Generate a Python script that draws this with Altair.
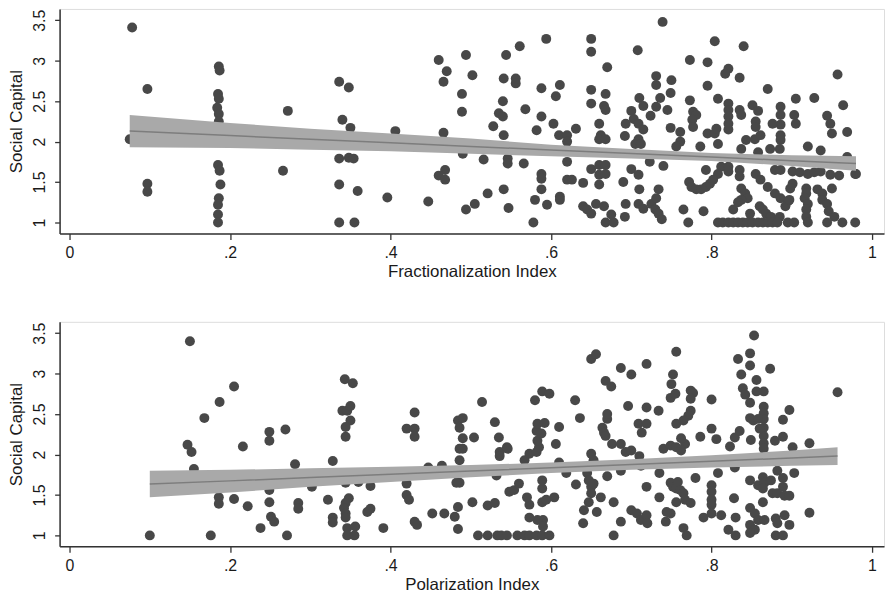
import altair as alt
import pandas as pd

# ---------------- data ----------------
frac_points = [
    (0.078,3.41),(0.075,2.03),(0.097,2.65),(0.097,1.48),(0.097,1.38),
    (0.186,2.93),(0.187,2.88),(0.185,2.59),(0.186,2.53),(0.184,2.42),(0.186,2.34),(0.186,2.25),
    (0.185,1.71),(0.187,1.64),(0.188,1.47),(0.186,1.30),(0.185,1.22),(0.185,1.10),(0.185,1.0),
    (0.266,1.64),(0.272,2.38),
    (0.336,2.74),(0.336,1.79),(0.336,1.47),(0.336,1.0),(0.348,2.67),(0.348,1.80),(0.34,2.27),
    (0.35,2.17),(0.354,1.79),(0.359,1.39),(0.355,1.0),
    (0.396,1.31),(0.406,2.13),(0.447,1.26),(0.46,3.01),(0.47,2.87),(0.466,2.74),(0.466,2.11),
    (0.468,1.65),(0.46,1.58),(0.468,1.53),
    (0.494,3.07),(0.502,2.82),(0.489,2.59),(0.489,2.37),(0.49,1.85),(0.494,1.16),(0.505,1.23),
    (0.516,1.78),(0.521,1.36),(0.528,2.19),(0.535,2.35),(0.54,2.31),(0.54,2.50),(0.541,2.78),
    (0.544,3.07),(0.541,2.08),(0.546,1.79),(0.546,1.73),(0.541,1.41),(0.547,1.18),(0.556,2.78),
    (0.556,2.72),(0.561,3.18),(0.566,1.73),(0.568,2.40),(0.578,1.0),(0.582,2.14),(0.58,1.28),
    (0.588,2.66),(0.588,2.31),(0.588,1.60),(0.588,1.54),(0.588,1.41),(0.594,3.27),(0.595,1.22),
    (0.65,3.27),(0.65,3.11),(0.67,2.92),(0.739,3.48),(0.708,3.13),(0.773,3.01),(0.795,2.98),
    (0.611,2.70),(0.606,2.56),(0.65,2.64),(0.65,2.47),(0.668,2.59),(0.666,2.44),(0.668,2.39),
    (0.731,2.81),(0.731,2.70),(0.75,2.76),(0.749,2.60),(0.736,2.54),(0.71,2.54),(0.715,2.44),
    (0.731,2.43),(0.745,2.39),(0.724,2.32),(0.70,2.38),(0.703,2.28),(0.709,2.22),(0.693,2.22),
    (0.715,2.15),(0.709,2.03),(0.705,1.97),(0.712,1.97),(0.692,2.07),
    (0.66,2.22),(0.662,2.08),(0.66,2.03),(0.668,2.03),(0.631,2.16),(0.603,2.22),(0.61,2.08),
    (0.62,2.08),(0.62,2.0),
    (0.62,1.75),(0.62,1.53),(0.626,1.53),(0.64,1.49),(0.65,1.66),(0.66,1.71),(0.668,1.71),
    (0.66,1.59),(0.668,1.60),(0.66,1.47),
    (0.611,1.32),(0.611,1.28),(0.64,1.20),(0.645,1.16),(0.65,1.11),(0.656,1.23),(0.666,1.20),
    (0.668,1.0),(0.678,1.0),(0.675,1.10),
    (0.69,1.50),(0.70,1.66),(0.709,1.59),(0.71,1.41),(0.693,1.23),(0.692,1.07),(0.709,1.23),
    (0.715,1.17),(0.723,1.75),(0.74,1.70),
    (0.725,1.23),(0.731,1.30),(0.73,1.16),(0.734,1.11),(0.738,1.04),(0.734,1.41),
    (0.749,2.17),(0.761,2.12),(0.761,2.0),(0.756,1.94),(0.773,2.51),(0.777,2.37),(0.781,2.33),
    (0.776,2.27),(0.777,2.18),(0.786,1.94),(0.795,2.69),(0.795,2.10),(0.793,1.65),
    (0.772,1.50),(0.775,1.44),(0.781,1.41),(0.787,1.41),(0.793,1.44),(0.798,1.48),(0.765,1.16),
    (0.771,1.0),(0.79,1.14),
    (0.804,3.24),(0.84,3.18),(0.821,2.90),(0.817,2.84),(0.835,2.79),(0.87,2.65),(0.957,2.83),
    (0.808,2.53),(0.905,2.53),(0.928,2.54),(0.964,2.45),
    (0.821,2.47),(0.821,2.39),(0.821,2.31),(0.821,2.22),(0.821,2.15),(0.835,2.39),(0.837,2.33),
    (0.851,2.45),(0.858,2.38),(0.855,2.25),(0.855,2.18),
    (0.886,2.43),(0.886,2.33),(0.886,2.21),(0.876,2.22),(0.886,2.08),(0.886,2.02),(0.903,2.33),
    (0.905,2.22),(0.944,2.32),(0.948,2.22),(0.95,2.10),(0.969,2.12),
    (0.804,2.10),(0.808,1.97),(0.843,2.02),(0.854,2.03),(0.861,2.08),(0.837,1.91),(0.858,1.87),
    (0.873,1.91),(0.885,1.91),(0.92,1.94),(0.936,1.89),(0.969,1.81),
    (0.812,1.69),(0.808,1.60),(0.802,1.53),(0.821,1.69),(0.821,1.63),(0.835,1.65),(0.835,1.57),
    (0.855,1.60),(0.861,1.53),(0.879,1.65),(0.886,1.65),
    (0.901,1.63),(0.91,1.62),(0.92,1.60),(0.928,1.62),(0.936,1.63),(0.948,1.59),(0.959,1.58),
    (0.979,1.60),(0.901,1.48),(0.898,1.42),
    (0.87,1.44),(0.879,1.36),(0.886,1.30),(0.895,1.26),(0.837,1.42),(0.842,1.36),(0.845,1.30),
    (0.837,1.28),
    (0.918,1.42),(0.918,1.36),(0.916,1.30),(0.92,1.23),(0.918,1.16),(0.918,1.07),(0.932,1.41),
    (0.938,1.36),(0.938,1.28),(0.95,1.42),(0.944,1.23),(0.946,1.14),(0.953,1.07),
    (0.86,1.20),(0.864,1.16),(0.868,1.11),(0.874,1.07),(0.885,1.07),(0.892,1.20),(0.897,1.28),
    (0.827,1.16),(0.833,1.25),(0.848,1.11),
    (0.808,1.0),(0.814,1.0),(0.821,1.0),(0.827,1.0),(0.833,1.0),(0.839,1.0),(0.845,1.0),
    (0.851,1.0),(0.858,1.0),(0.864,1.0),(0.87,1.0),(0.876,1.0),(0.882,1.0),(0.895,1.0),
    (0.903,1.0),(0.92,1.0),(0.944,1.0),(0.963,1.0),(0.979,1.0),
    (0.806,2.16),(0.98,1.60),
]

polar_points = [
    (0.1,1.0),(0.15,3.40),(0.147,2.12),(0.152,2.03),(0.155,1.82),(0.168,2.45),(0.176,1.0),
    (0.187,2.65),(0.186,1.47),(0.186,1.39),(0.205,2.84),(0.205,1.45),(0.216,2.10),(0.222,1.36),
    (0.238,1.09),(0.249,2.28),(0.249,2.17),(0.249,1.56),(0.249,1.41),(0.251,1.23),(0.255,1.17),
    (0.269,2.31),(0.271,1.0),(0.281,1.88),(0.285,1.40),(0.285,1.33),(0.302,1.60),(0.322,1.44),
    (0.328,1.92),(0.328,1.22),(0.328,1.16),
    (0.343,2.93),(0.353,2.88),(0.34,2.54),(0.346,2.54),(0.35,2.60),(0.35,2.42),(0.344,2.34),
    (0.344,2.22),(0.344,1.65),(0.348,1.46),(0.344,1.40),(0.342,1.34),(0.344,1.27),(0.344,1.22),
    (0.346,1.09),(0.356,1.11),(0.346,1.0),(0.355,1.0),(0.36,1.66),(0.371,1.29),(0.375,1.33),
    (0.375,1.61),(0.391,1.09),
    (0.42,2.32),(0.43,2.32),(0.43,2.52),(0.43,2.22),(0.42,1.64),(0.42,1.50),(0.423,1.44),
    (0.43,1.17),(0.433,1.13),(0.452,1.27),(0.467,1.27),(0.447,1.84),(0.464,1.86),
    (0.484,2.42),(0.49,2.45),(0.486,2.33),(0.49,2.20),(0.486,2.07),(0.49,2.07),(0.486,1.93),
    (0.486,1.65),(0.482,1.65),(0.484,1.35),(0.48,1.23),(0.484,1.08),
    (0.504,2.21),(0.502,1.41),(0.514,2.65),(0.521,1.37),(0.53,1.40),(0.53,2.40),(0.535,2.21),
    (0.536,2.03),(0.536,1.98),(0.545,2.09),(0.532,1.74),(0.548,1.54),
    (0.509,1.0),(0.521,1.0),(0.533,1.0),(0.538,1.0),(0.545,1.0),(0.558,1.0),(0.567,1.0),
    (0.573,1.0),(0.582,1.0),(0.589,1.0),(0.598,1.0),
    (0.59,1.19),(0.583,1.19),(0.573,1.22),(0.59,1.11),(0.573,1.38),(0.57,1.47),(0.554,1.56),
    (0.56,1.64),(0.589,1.41),(0.594,1.44),(0.604,1.47),(0.589,1.58),(0.589,1.68),
    (0.567,1.93),(0.573,2.01),(0.582,2.03),(0.585,2.09),(0.583,2.17),(0.588,2.26),(0.582,2.29),
    (0.583,2.38),(0.592,2.39),
    (0.58,2.67),(0.589,2.78),(0.598,2.75),(0.61,2.34),(0.606,2.13),(0.61,1.90),(0.619,1.77),
    (0.546,2.07),(0.63,2.67),(0.636,2.45),(0.631,1.63),(0.65,2.01),(0.653,1.93),
    (0.645,1.77),(0.647,1.68),(0.65,1.60),(0.653,1.64),(0.65,1.52),(0.647,1.41),(0.641,1.31),
    (0.64,1.15),(0.657,1.29),(0.662,1.47),
    (0.65,3.18),(0.656,3.24),(0.664,2.33),(0.67,2.44),(0.67,2.50),(0.666,2.27),(0.668,2.23),
    (0.67,1.73),(0.678,1.41),(0.678,1.0),(0.687,1.17),(0.668,2.91),(0.675,2.84),(0.687,3.07),
    (0.70,2.99),(0.696,2.60),(0.676,2.13),(0.687,2.13),(0.693,2.03),(0.70,2.05),(0.687,1.80),
    (0.709,2.38),(0.713,2.27),(0.719,2.38),(0.71,1.98),(0.712,1.86),(0.719,3.12),(0.719,2.58),
    (0.719,1.60),(0.70,1.31),(0.707,1.27),(0.712,1.19),(0.719,1.25),(0.72,1.15),
    (0.734,2.54),(0.735,1.77),(0.735,1.47),(0.743,1.17),(0.74,2.07),(0.749,2.11),(0.756,2.09),
    (0.752,2.99),(0.75,2.87),(0.749,2.70),(0.755,2.75),(0.756,3.27),(0.756,2.38),(0.749,1.65),
    (0.752,1.60),(0.756,1.58),(0.749,1.27),(0.744,1.29),(0.756,1.41),
    (0.853,3.47),(0.848,3.25),(0.833,3.18),(0.848,3.10),(0.837,2.99),(0.873,3.06),(0.856,2.92),
    (0.839,2.82),(0.842,2.74),(0.856,2.78),(0.865,2.78),(0.848,2.64),
    (0.865,2.59),(0.865,2.51),(0.865,2.44),(0.865,2.33),(0.865,2.23),(0.865,2.14),(0.865,2.07),
    (0.848,2.45),(0.852,2.42),(0.858,2.44),(0.86,2.32),(0.849,2.18),(0.897,2.55),(0.889,2.43),
    (0.957,2.77),(0.80,2.68),
    (0.774,2.79),(0.777,2.76),(0.774,2.69),(0.774,2.54),(0.771,2.48),(0.765,2.42),(0.80,2.32),
    (0.806,2.19),(0.786,2.22),(0.823,2.10),(0.829,2.21),(0.835,2.29),
    (0.767,2.13),(0.762,2.20),(0.762,2.05),(0.879,2.17),(0.889,2.22),(0.901,2.09),(0.922,2.14),
    (0.808,1.77),(0.78,1.71),(0.903,1.77),(0.80,1.62),(0.80,1.54),(0.829,1.84),(0.882,1.80),
    (0.848,1.68),(0.858,1.62),(0.864,1.72),(0.866,1.65),(0.874,1.68),(0.864,1.58),
    (0.889,1.71),(0.889,1.60),(0.876,1.52),(0.882,1.52),(0.891,1.49),(0.897,1.49),
    (0.758,1.66),(0.761,1.56),(0.765,1.52),(0.767,1.44),(0.774,1.40),(0.80,1.44),(0.80,1.38),
    (0.828,1.46),(0.864,1.41),
    (0.812,1.25),(0.79,1.22),(0.80,1.27),(0.83,1.22),(0.848,1.34),(0.854,1.27),(0.858,1.19),
    (0.866,1.19),(0.848,1.13),(0.854,1.07),(0.848,1.03),(0.821,1.07),(0.83,1.0),
    (0.88,1.21),(0.882,1.15),(0.891,1.25),(0.897,1.13),(0.88,1.0),(0.889,1.0),(0.765,1.09),
    (0.769,1.0),(0.922,1.28),
]

# linear fit with 95% CI
frac_fit_x  = [0.075, 0.2, 0.3, 0.4, 0.5, 0.6, 0.7, 0.8, 0.9, 0.98]
frac_fit_y  = [2.13, 2.075, 2.03, 1.986, 1.94, 1.897, 1.853, 1.809, 1.764, 1.73]
frac_fit_hi = [2.33, 2.23, 2.16, 2.10, 2.04, 1.96, 1.91, 1.86, 1.83, 1.82]
frac_fit_lo = [1.93, 1.92, 1.90, 1.88, 1.85, 1.82, 1.79, 1.76, 1.70, 1.64]

polar_fit_x  = [0.10, 0.2, 0.3, 0.4, 0.5, 0.6, 0.7, 0.8, 0.9, 0.957]
polar_fit_y  = [1.634, 1.674, 1.715, 1.755, 1.796, 1.836, 1.876, 1.917, 1.957, 1.98]
polar_fit_hi = [1.80, 1.81, 1.83, 1.85, 1.87, 1.90, 1.94, 1.99, 2.05, 2.09]
polar_fit_lo = [1.47, 1.53, 1.60, 1.66, 1.72, 1.77, 1.81, 1.84, 1.86, 1.87]

x_ticks = [0, 0.2, 0.4, 0.6, 0.8, 1]
y_ticks = [1, 1.5, 2, 2.5, 3, 3.5]
x_domain = [-0.0124, 1.0149]
y_domain = [0.865, 3.64]

FONT = "Liberation Sans"
PANEL_W = 830
PANEL_H = 226


def panel(points, fx, fy, flo, fhi, xtitle):
    pts = pd.DataFrame(points, columns=["x", "y"])
    fit = pd.DataFrame({"x": fx, "y": fy, "lo": flo, "hi": fhi})

    xscale = alt.Scale(domain=x_domain, nice=False, zero=False)
    yscale = alt.Scale(domain=y_domain, nice=False, zero=False)

    xaxis = alt.Axis(
        values=x_ticks, title=xtitle, grid=False,
        labelExpr="datum.value == 0 || datum.value == 1 ? format(datum.value, 'd') : slice(format(datum.value, '.1f'), 1)",
        tickSize=6, labelPadding=5, titlePadding=3,
        domainColor="#333333", tickColor="#333333", domainWidth=1.5, tickWidth=1.3,
        labelFont=FONT, titleFont=FONT, labelFontSize=16, titleFontSize=17,
        labelColor="#1a1a1a", titleColor="#1a1a1a", titleFontWeight="normal",
        labelFlush=False, labelOverlap=False,
    )
    yaxis = alt.Axis(
        values=y_ticks, title="Social Capital", grid=False, format="~g",
        labelAngle=-90, labelAlign="center", labelBaseline="alphabetic",
        tickSize=5, labelPadding=10, titlePadding=6,
        domainColor="#333333", tickColor="#333333", domainWidth=1.5, tickWidth=1.3,
        labelFont=FONT, titleFont=FONT, labelFontSize=16, titleFontSize=17,
        labelColor="#1a1a1a", titleColor="#1a1a1a", titleFontWeight="normal",
        labelFlush=False, labelOverlap=False,
    )

    scatter = alt.Chart(pts).mark_circle(size=100, color="#484848", opacity=1).encode(
        x=alt.X("x:Q", scale=xscale, axis=xaxis),
        y=alt.Y("y:Q", scale=yscale, axis=yaxis),
    )
    band = alt.Chart(fit).mark_area(color="#a9a9a9", opacity=1).encode(
        x=alt.X("x:Q", scale=xscale),
        y=alt.Y("lo:Q", scale=yscale),
        y2="hi:Q",
    )
    line = alt.Chart(fit).mark_line(color="#7d7d7d", strokeWidth=1.5).encode(
        x=alt.X("x:Q", scale=xscale),
        y=alt.Y("y:Q", scale=yscale),
    )
    return alt.layer(scatter, band, line).properties(width=PANEL_W, height=PANEL_H)


top = panel(frac_points, frac_fit_x, frac_fit_y, frac_fit_lo, frac_fit_hi, "Fractionalization Index")
bottom = panel(polar_points, polar_fit_x, polar_fit_y, polar_fit_lo, polar_fit_hi, "Polarization Index")

chart = alt.vconcat(top, bottom, spacing=89, bounds="flush").properties(
    padding={"left": 7, "top": 6, "right": 0, "bottom": 0},
).configure_view(
    stroke="#7a7a7a", strokeWidth=1.5
).configure(background="white")

chart.save("out.html", embed_options={"renderer": "svg", "actions": False})
